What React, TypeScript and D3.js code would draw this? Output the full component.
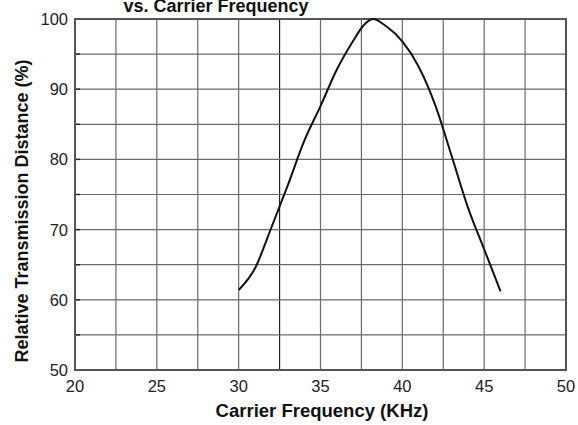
import React, { useEffect, useRef } from 'react';
import * as d3 from 'd3';

// carrier frequency (KHz) vs relative distance (%)
const freqs = [30, 31, 32, 33, 34, 35, 36, 37, 37.6, 38.2, 39, 40, 41, 42, 43, 44, 45, 46];
const distance = [61.4, 64.5, 70.3, 76.3, 82.6, 87.6, 92.8, 96.9, 99.0, 100, 99.0, 96.8, 93.2, 87.8, 80.6, 73.2, 67.2, 61.2];

const xTicks = [20, 25, 30, 35, 40, 45, 50];
const yTicks = [50, 60, 70, 80, 90, 100];
const xGrid = [22.5, 25, 27.5, 30, 32.5, 35, 37.5, 40, 42.5, 45, 47.5];
const yGrid = [55, 60, 65, 70, 75, 80, 85, 90, 95];

export default function App() {
  const svgRef = useRef<SVGSVGElement>(null);

  useEffect(() => {
    const svg = d3.select(svgRef.current);
    svg.selectAll('*').remove();

    const W = 578, H = 425;
    const margin = { top: 19, right: 12, bottom: 55, left: 75 };
    const width = W - margin.left - margin.right;
    const height = H - margin.top - margin.bottom;
    const font = 'Liberation Sans, Arial, sans-serif';

    svg.attr('width', W).attr('height', H);

    const g = svg.append('g')
      .attr('transform', `translate(${margin.left},${margin.top})`);

    const x = d3.scaleLinear().domain([20, 50]).range([0, width]);
    const y = d3.scaleLinear().domain([50, 100]).range([height, 0]);

    // grid
    g.selectAll('.vgrid').data(xGrid).enter().append('line')
      .attr('x1', d => x(d)).attr('x2', d => x(d))
      .attr('y1', 0).attr('y2', height)
      .attr('stroke', d => d === 32.5 ? '#222' : '#6a6a6a')
      .attr('stroke-width', 1.2);

    g.selectAll('.hgrid').data(yGrid).enter().append('line')
      .attr('x1', 0).attr('x2', width)
      .attr('y1', d => y(d)).attr('y2', d => y(d))
      .attr('stroke', '#6a6a6a')
      .attr('stroke-width', 1.2);

    // small ticks on left axis
    g.selectAll('.ytick').data(yGrid).enter().append('line')
      .attr('x1', 0).attr('x2', 5)
      .attr('y1', d => y(d)).attr('y2', d => y(d))
      .attr('stroke', '#222')
      .attr('stroke-width', 1.4);

    // frame
    g.append('rect')
      .attr('x', 0).attr('y', 0)
      .attr('width', width).attr('height', height)
      .attr('fill', 'none')
      .attr('stroke', '#555')
      .attr('stroke-width', 2);

    // curve
    const line = d3.line<number>()
      .x((_, i) => x(freqs[i]))
      .y(d => y(d))
      .curve(d3.curveMonotoneX);

    g.append('path')
      .datum(distance)
      .attr('d', line)
      .attr('fill', 'none')
      .attr('stroke', '#111')
      .attr('stroke-width', 2);

    // tick labels
    g.selectAll('.xlab').data(xTicks).enter().append('text')
      .attr('x', d => x(d))
      .attr('y', height + 22)
      .attr('text-anchor', 'middle')
      .attr('font-family', font)
      .attr('font-size', 16.5)
      .attr('fill', '#222')
      .text(d => d);

    g.selectAll('.ylab').data(yTicks).enter().append('text')
      .attr('x', -7)
      .attr('y', d => y(d) + 6)
      .attr('text-anchor', 'end')
      .attr('font-family', font)
      .attr('font-size', 16.5)
      .attr('fill', '#222')
      .text(d => d);

    // titles
    svg.append('text')
      .attr('x', 216)
      .attr('y', 12)
      .attr('text-anchor', 'middle')
      .attr('font-family', font)
      .attr('font-weight', 'bold')
      .attr('font-size', 18)
      .attr('fill', '#111')
      .text('vs. Carrier Frequency');

    svg.append('text')
      .attr('x', 322)
      .attr('y', 417)
      .attr('text-anchor', 'middle')
      .attr('font-family', font)
      .attr('font-weight', 'bold')
      .attr('font-size', 18.5)
      .attr('fill', '#111')
      .text('Carrier Frequency (KHz)');

    svg.append('text')
      .attr('transform', 'translate(28,211) rotate(-90)')
      .attr('text-anchor', 'middle')
      .attr('font-family', font)
      .attr('font-weight', 'bold')
      .attr('font-size', 18)
      .attr('fill', '#111')
      .text('Relative Transmission Distance (%)');
  }, []);

  return (
    <div style={{ position: 'fixed', left: 0, top: 0, width: 578, height: 425, background: 'white' }}>
      <svg ref={svgRef} style={{ display: 'block' }}></svg>
    </div>
  );
}
